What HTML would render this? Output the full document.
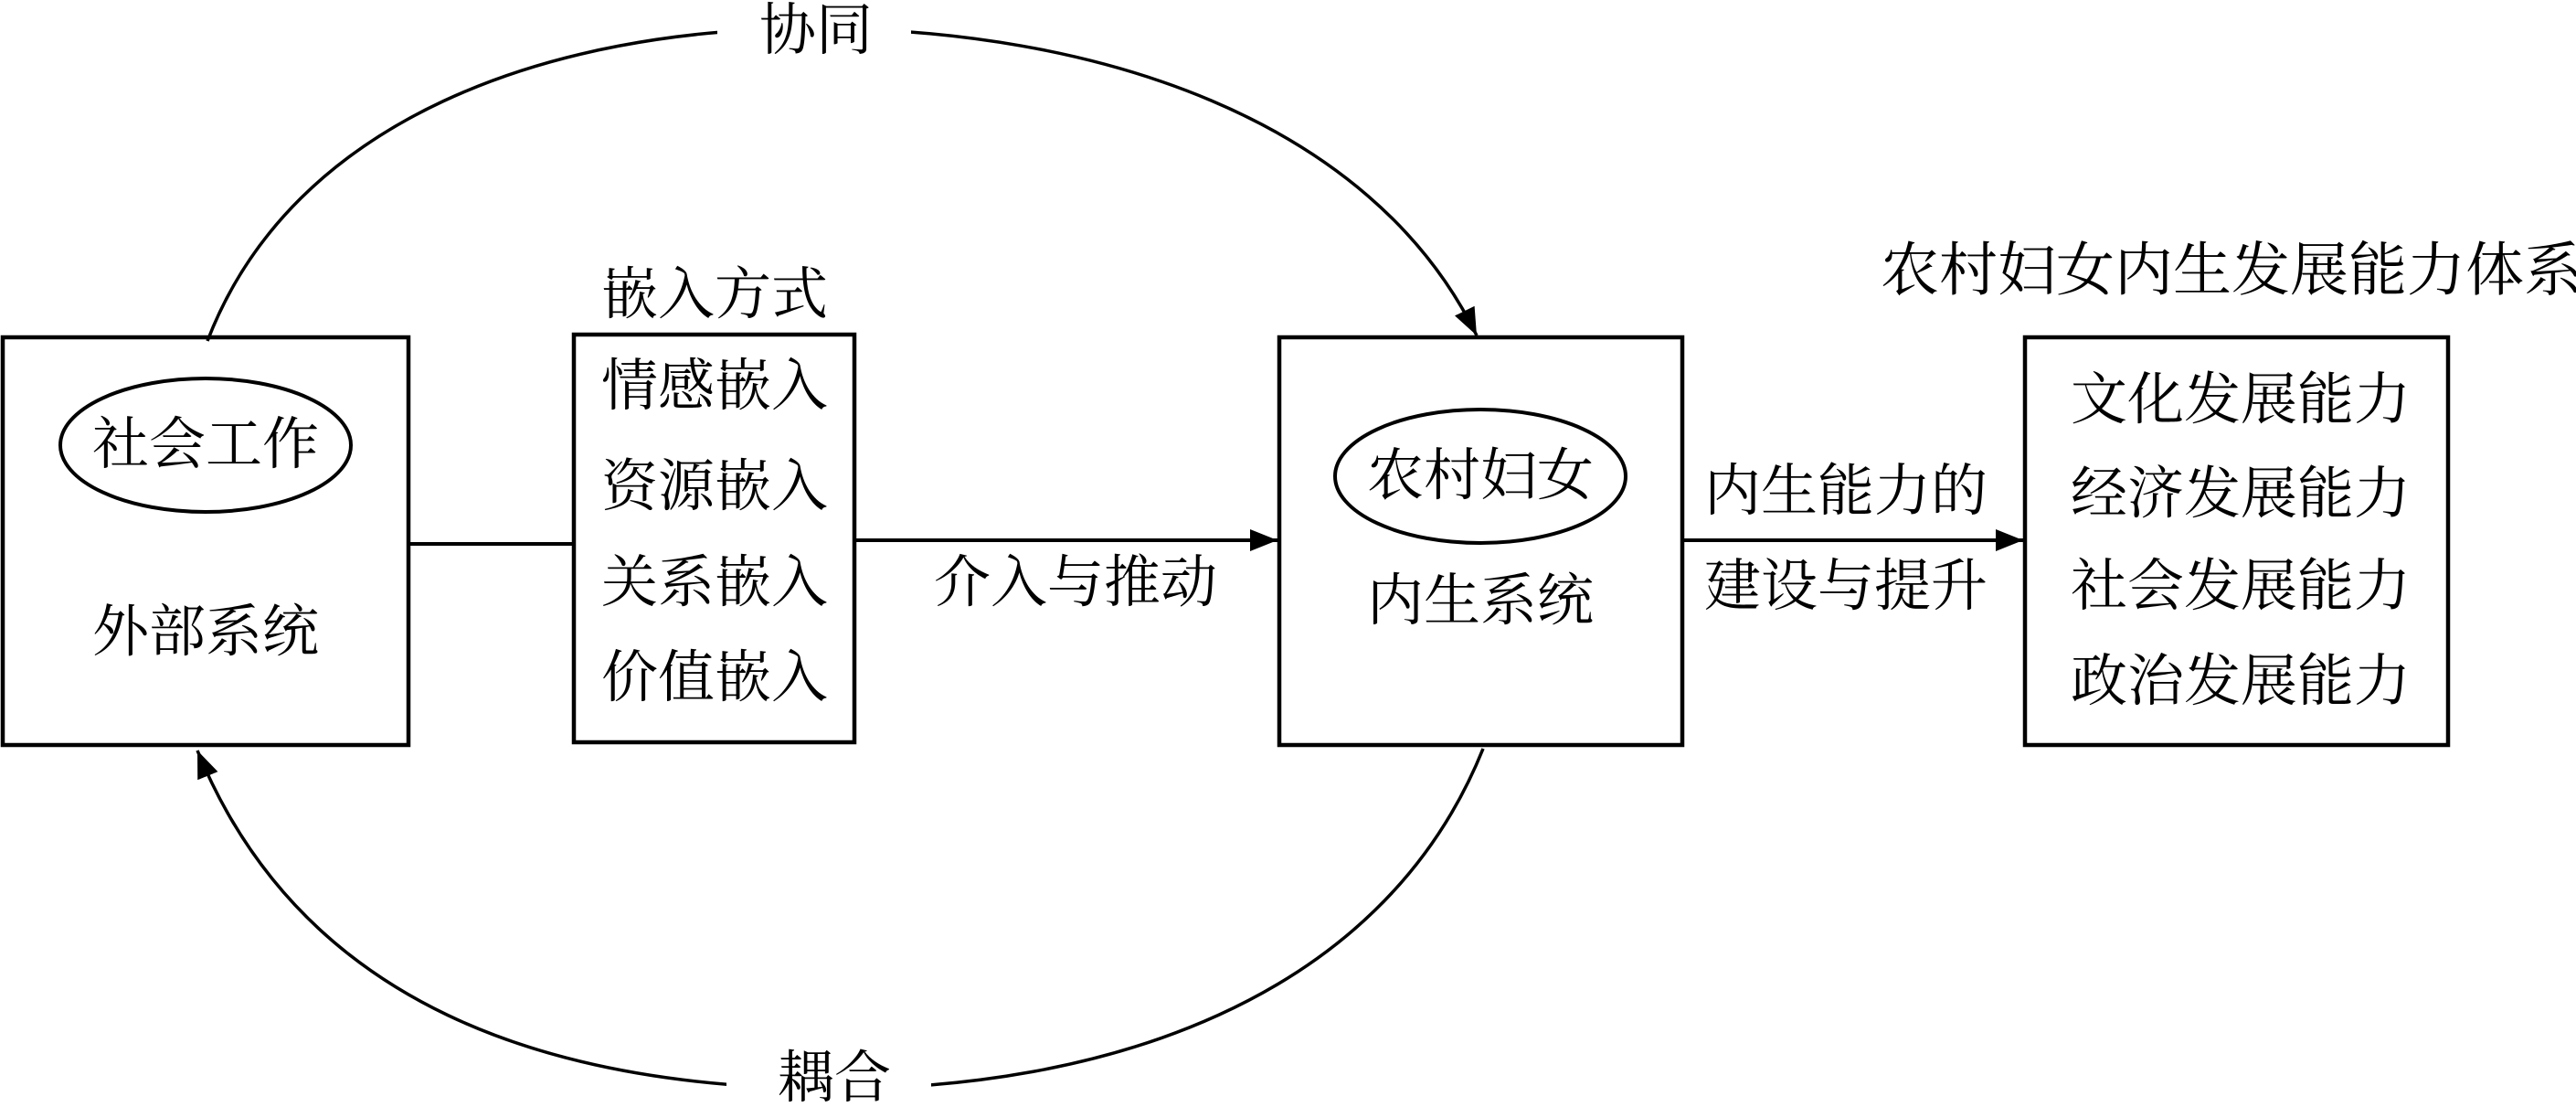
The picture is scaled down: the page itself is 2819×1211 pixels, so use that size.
<!DOCTYPE html>
<html><head><meta charset="utf-8"><style>
html,body{margin:0;padding:0;background:#fff}
svg text{font-family:"Liberation Serif","Noto Serif CJK SC",serif;font-size:62px;fill:#000}
</style></head><body>
<svg width="2819" height="1206" viewBox="0 0 2819 1206" xmlns="http://www.w3.org/2000/svg">
<defs>
<marker id="a" viewBox="0 0 10 10" refX="10" refY="5" markerWidth="30" markerHeight="24" markerUnits="userSpaceOnUse" orient="auto" preserveAspectRatio="none"><path d="M0,0 L10,5 L0,10 z" fill="#000"/></marker>
</defs>
<g fill="none" stroke="#000">
<rect x="3" y="369" width="444" height="446" stroke-width="4.5"/>
<rect x="628" y="366" width="307" height="446" stroke-width="4.5"/>
<rect x="1400" y="369" width="441" height="446" stroke-width="4.5"/>
<rect x="2216" y="369" width="463" height="446" stroke-width="4.5"/>
<ellipse cx="225" cy="487" rx="159" ry="73" stroke-width="4"/>
<ellipse cx="1620" cy="521" rx="159" ry="73" stroke-width="4"/>
<line x1="447" y1="595" x2="628" y2="595" stroke-width="4"/>
<line x1="935" y1="591" x2="1398" y2="591" stroke-width="4" marker-end="url(#a)"/>
<line x1="1841" y1="591" x2="2214" y2="591" stroke-width="4" marker-end="url(#a)"/>
<path d="M227,373 C320,130 600,31 890,31 C1200,31 1500,130 1616,367" stroke-width="3.5" marker-end="url(#a)"/>
<path d="M1623,819 C1510,1100 1200,1191 915,1191 C600,1191 330,1100 216,821" stroke-width="3.5" marker-end="url(#a)"/>
</g>
<rect x="785" y="0" width="212" height="70" fill="#fff"/>
<rect x="795" y="1150" width="224" height="56" fill="#fff"/>
<g text-anchor="middle" dominant-baseline="central">
<text x="893" y="34">协同</text>
<text x="913" y="1180">耦合</text>
<text x="225" y="487">社会工作</text>
<text x="225" y="692">外部系统</text>
<text x="782" y="323">嵌入方式</text>
<text x="782" y="423">情感嵌入</text>
<text x="782" y="533">资源嵌入</text>
<text x="782" y="638">关系嵌入</text>
<text x="782" y="742">价值嵌入</text>
<text x="1177" y="638">介入与推动</text>
<text x="1620" y="521">农村妇女</text>
<text x="1620" y="658">内生系统</text>
<text x="2020" y="538">内生能力的</text>
<text x="2020" y="642">建设与提升</text>
<text x="2442" y="296" style="font-size:64px">农村妇女内生发展能力体系</text>
<text x="2452" y="438">文化发展能力</text>
<text x="2452" y="541">经济发展能力</text>
<text x="2452" y="642">社会发展能力</text>
<text x="2452" y="746">政治发展能力</text>
</g>
</svg>
</body></html>
